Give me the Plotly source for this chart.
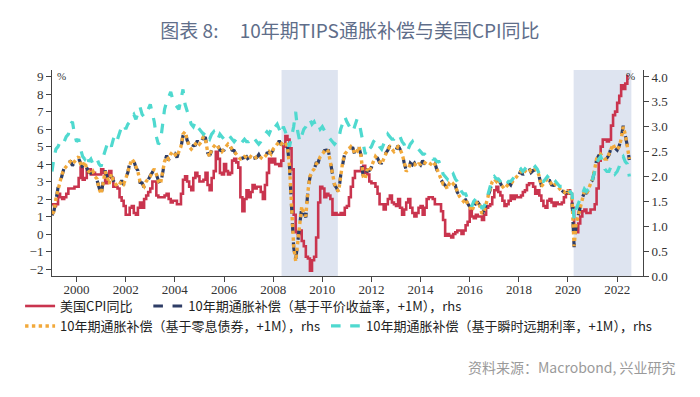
import pandas as pd
import plotly.graph_objects as go

# US CPI YoY (%), monthly from 1999-01 to 2022-06
cpi_yoy = [
    1.7, 1.6, 1.7, 2.3, 2.1, 2.0, 2.1, 2.3, 2.6, 2.6, 2.6, 2.7,
    2.7, 3.2, 3.8, 3.1, 3.2, 3.7, 3.7, 3.4, 3.5, 3.4, 3.4, 3.4,
    3.7, 3.5, 2.9, 3.3, 3.6, 3.2, 2.7, 2.7, 2.6, 2.1, 1.9, 1.6,
    1.1, 1.1, 1.5, 1.6, 1.2, 1.1, 1.5, 1.8, 1.5, 2.0, 2.2, 2.4,
    2.6, 3.0, 3.0, 2.2, 2.1, 2.1, 2.1, 2.2, 2.3, 2.0, 1.8, 1.9,
    1.9, 1.7, 1.7, 2.3, 3.1, 3.3, 3.0, 2.7, 2.5, 3.2, 3.5, 3.3,
    3.0, 3.0, 3.1, 3.5, 2.8, 2.5, 3.2, 3.6, 4.7, 4.3, 3.5, 3.4,
    4.0, 3.6, 3.4, 3.5, 4.2, 4.3, 4.1, 3.8, 2.1, 1.3, 2.0, 2.5,
    2.1, 2.4, 2.8, 2.6, 2.7, 2.7, 2.4, 2.0, 2.8, 3.5, 4.3, 4.1,
    4.3, 4.0, 4.0, 3.9, 4.2, 5.0, 5.6, 5.4, 4.9, 3.7, 1.1, 0.1,
    0.0, 0.2, -0.4, -0.7, -1.3, -1.4, -2.1, -1.5, -1.3, -0.2, 1.8, 2.7,
    2.6, 2.1, 2.3, 2.2, 2.0, 1.1, 1.2, 1.1, 1.1, 1.2, 1.1, 1.5,
    1.6, 2.1, 2.7, 3.2, 3.6, 3.6, 3.6, 3.8, 3.9, 3.5, 3.4, 3.0,
    2.9, 2.9, 2.7, 2.3, 1.7, 1.7, 1.4, 1.7, 2.0, 2.2, 1.8, 1.7,
    1.6, 2.0, 1.5, 1.1, 1.4, 1.8, 2.0, 1.5, 1.2, 1.0, 1.2, 1.5,
    1.6, 1.1, 1.5, 2.0, 2.1, 2.1, 2.0, 1.7, 1.7, 1.7, 1.3, 0.8,
    -0.1, 0.0, -0.1, -0.2, 0.0, 0.1, 0.2, 0.2, 0.0, 0.2, 0.5, 0.7,
    1.4, 1.0, 0.9, 1.1, 1.0, 1.0, 0.8, 1.1, 1.5, 1.6, 1.7, 2.1,
    2.5, 2.7, 2.4, 2.2, 1.9, 1.6, 1.7, 1.9, 2.2, 2.0, 2.2, 2.1,
    2.1, 2.2, 2.4, 2.5, 2.8, 2.9, 2.9, 2.7, 2.3, 2.5, 2.2, 1.9,
    1.6, 1.5, 1.9, 2.0, 1.8, 1.6, 1.8, 1.7, 1.7, 1.8, 2.1, 2.3,
    2.5, 2.3, 1.5, 0.3, 0.1, 0.6, 1.0, 1.3, 1.4, 1.2, 1.2, 1.4,
    1.4, 1.7, 2.6, 4.2, 5.0, 5.4, 5.4, 5.3, 5.4, 6.2, 6.8, 7.0,
    7.5, 7.9, 8.5, 8.3, 8.6, 9.1,
]

# 10Y breakeven, par yield based, +1M (rhs, %), monthly from 1999-01 to 2022-07
be_par = [
    1.22, 1.32, 1.52, 1.78, 1.88, 2.02, 2.18, 2.18, 2.22, 2.32, 2.22, 2.28,
    2.38, 2.36, 2.28, 2.18, 2.27, 2.18, 2.08, 2.07, 2.08, 2.02, 1.92, 1.78,
    1.62, 1.92, 2.12, 1.98, 1.88, 2.02, 1.92, 1.82, 1.82, 1.82, 1.92, 1.83,
    1.97, 2.08, 2.27, 2.32, 2.32, 2.18, 2.12, 1.88, 1.87, 1.78, 1.92, 1.93,
    2.02, 2.08, 2.17, 2.03, 1.92, 1.83, 2.07, 2.28, 2.42, 2.33, 2.47, 2.48,
    2.47, 2.38, 2.52, 2.58, 2.82, 2.92, 2.73, 2.62, 2.53, 2.62, 2.63, 2.72,
    2.63, 2.72, 2.78, 2.77, 2.48, 2.42, 2.53, 2.62, 2.63, 2.62, 2.53, 2.52,
    2.53, 2.62, 2.63, 2.62, 2.53, 2.52, 2.43, 2.42, 2.33, 2.37, 2.38, 2.40,
    2.33, 2.42, 2.36, 2.37, 2.38, 2.44, 2.36, 2.37, 2.38, 2.47, 2.48, 2.47,
    2.53, 2.62, 2.63, 2.72, 2.63, 2.72, 2.66, 2.62, 2.18, 1.52, 0.58, 0.32,
    0.68, 0.97, 1.38, 1.27, 1.18, 1.72, 1.98, 2.12, 2.13, 2.27, 2.28, 2.42,
    2.43, 2.52, 2.53, 2.52, 2.28, 2.12, 1.83, 1.77, 1.68, 2.02, 2.28, 2.47,
    2.48, 2.57, 2.58, 2.57, 2.43, 2.52, 2.58, 2.42, 1.98, 1.97, 2.13, 2.12,
    2.18, 2.32, 2.38, 2.37, 2.28, 2.27, 2.33, 2.47, 2.53, 2.62, 2.53, 2.52,
    2.53, 2.62, 2.53, 2.47, 2.28, 2.12, 2.13, 2.27, 2.23, 2.27, 2.18, 2.27,
    2.23, 2.32, 2.26, 2.27, 2.26, 2.27, 2.28, 2.27, 2.13, 2.07, 1.93, 1.87,
    1.83, 1.77, 1.83, 1.82, 1.83, 1.82, 1.68, 1.62, 1.53, 1.52, 1.53, 1.47,
    1.38, 1.32, 1.38, 1.47, 1.48, 1.42, 1.23, 1.32, 1.43, 1.62, 1.73, 1.92,
    1.93, 1.92, 1.93, 1.87, 1.78, 1.77, 1.78, 1.87, 1.83, 1.92, 1.93, 2.02,
    2.03, 2.12, 2.03, 2.12, 2.13, 2.17, 2.08, 2.12, 2.13, 2.14, 1.98, 1.82,
    1.83, 1.92, 1.93, 1.92, 1.83, 1.82, 1.83, 1.82, 1.73, 1.72, 1.68, 1.67,
    1.68, 1.67, 1.53, 0.58, 1.03, 1.22, 1.33, 1.57, 1.68, 1.67, 1.73, 1.87,
    1.93, 2.17, 2.33, 2.42, 2.43, 2.42, 2.33, 2.37, 2.43, 2.57, 2.63, 2.57,
    2.53, 2.62, 2.77, 3.02, 2.83, 2.62, 2.33,
]

# 10Y breakeven, zero-coupon based, +1M (rhs, %)
be_zero = [
    1.25, 1.30, 1.55, 1.75, 1.90, 2.05, 2.15, 2.20, 2.25, 2.30, 2.25, 2.30,
    2.35, 2.40, 2.25, 2.20, 2.30, 2.15, 2.10, 2.05, 2.10, 2.00, 1.95, 1.75,
    1.65, 1.95, 2.10, 2.00, 1.85, 2.05, 1.90, 1.85, 1.80, 1.85, 1.90, 1.85,
    1.95, 2.10, 2.25, 2.35, 2.30, 2.20, 2.10, 1.90, 1.85, 1.80, 1.90, 1.95,
    2.00, 2.10, 2.15, 2.05, 1.90, 1.85, 2.05, 2.30, 2.40, 2.35, 2.45, 2.50,
    2.45, 2.40, 2.50, 2.60, 2.85, 2.90, 2.75, 2.60, 2.55, 2.60, 2.65, 2.70,
    2.65, 2.70, 2.80, 2.75, 2.50, 2.40, 2.55, 2.60, 2.65, 2.60, 2.55, 2.50,
    2.55, 2.60, 2.65, 2.60, 2.55, 2.50, 2.45, 2.40, 2.35, 2.35, 2.40, 2.38,
    2.35, 2.40, 2.38, 2.35, 2.40, 2.42, 2.38, 2.35, 2.40, 2.45, 2.50, 2.45,
    2.55, 2.60, 2.65, 2.70, 2.65, 2.70, 2.68, 2.60, 2.20, 1.50, 0.60, 0.30,
    0.70, 0.95, 1.40, 1.25, 1.20, 1.70, 2.00, 2.10, 2.15, 2.25, 2.30, 2.40,
    2.45, 2.50, 2.55, 2.50, 2.30, 2.10, 1.85, 1.75, 1.70, 2.00, 2.30, 2.45,
    2.50, 2.55, 2.60, 2.55, 2.45, 2.50, 2.60, 2.40, 2.00, 1.95, 2.15, 2.10,
    2.20, 2.30, 2.40, 2.35, 2.30, 2.25, 2.35, 2.45, 2.55, 2.60, 2.55, 2.50,
    2.55, 2.60, 2.55, 2.45, 2.30, 2.10, 2.15, 2.25, 2.25, 2.25, 2.20, 2.25,
    2.25, 2.30, 2.28, 2.25, 2.28, 2.25, 2.30, 2.25, 2.15, 2.05, 1.95, 1.85,
    1.85, 1.75, 1.85, 1.80, 1.85, 1.80, 1.70, 1.60, 1.55, 1.50, 1.55, 1.45,
    1.40, 1.30, 1.40, 1.45, 1.50, 1.40, 1.25, 1.30, 1.45, 1.60, 1.75, 1.90,
    1.95, 1.90, 1.95, 1.85, 1.80, 1.75, 1.80, 1.85, 1.85, 1.90, 1.95, 2.00,
    2.05, 2.10, 2.05, 2.10, 2.15, 2.15, 2.10, 2.10, 2.15, 2.12, 2.00, 1.80,
    1.85, 1.90, 1.95, 1.90, 1.85, 1.80, 1.85, 1.80, 1.75, 1.70, 1.70, 1.65,
    1.70, 1.65, 1.55, 0.60, 1.05, 1.20, 1.35, 1.55, 1.70, 1.65, 1.75, 1.85,
    1.95, 2.15, 2.35, 2.40, 2.45, 2.40, 2.35, 2.35, 2.45, 2.55, 2.65, 2.55,
    2.55, 2.60, 2.75, 3.00, 2.85, 2.60, 2.35,
]

# 10Y breakeven, instantaneous forward based, +1M (rhs, %)
be_fwd = [
    2.10, 2.40, 2.55, 2.60, 2.70, 2.75, 2.70, 2.80, 2.85, 3.05, 3.10, 2.85,
    2.70, 2.75, 2.55, 2.40, 2.35, 2.45, 2.30, 2.35, 2.25, 2.30, 2.35, 2.25,
    2.20, 2.40, 2.55, 2.65, 2.70, 2.60, 2.75, 2.85, 2.75, 2.90, 3.00, 3.05,
    2.95, 3.05, 3.10, 3.20, 3.25, 3.15, 3.30, 3.40, 3.25, 3.20, 3.30, 3.35,
    3.45, 3.25, 3.10, 2.80, 2.65, 2.70, 3.00, 3.35, 3.50, 3.60, 3.70, 3.55,
    3.45, 3.40, 3.35, 3.55, 3.75, 3.45, 3.30, 3.20, 3.05, 3.00, 3.10, 3.00,
    2.95, 2.90, 2.85, 2.90, 2.80, 2.75, 2.85, 2.90, 2.80, 2.75, 2.85, 2.80,
    2.75, 2.80, 2.85, 2.80, 2.75, 2.70, 2.75, 2.70, 2.65, 2.70, 2.75, 2.70,
    2.70, 2.75, 2.70, 2.75, 2.70, 2.65, 2.70, 2.80, 2.85, 2.90, 2.85, 2.95,
    2.90, 3.00, 3.05, 2.95, 2.85, 3.00, 2.90, 2.75, 2.60, 2.80, 3.00, 3.30,
    2.90, 2.70, 2.80, 2.95, 3.00, 3.10, 3.15, 3.05, 3.10, 3.00, 3.05, 2.95,
    3.00, 2.90, 2.85, 2.80, 2.75, 2.70, 2.65, 2.70, 2.75, 2.95, 3.10, 3.20,
    3.10, 3.00, 2.95, 2.90, 3.05, 3.15, 3.10, 2.85, 2.60, 2.45, 2.60, 2.55,
    2.60, 2.70, 2.75, 2.70, 2.60, 2.55, 2.65, 2.75, 2.85, 2.80, 2.75, 2.75,
    2.80, 2.85, 2.80, 2.70, 2.65, 2.50, 2.55, 2.65, 2.70, 2.60, 2.55, 2.55,
    2.50, 2.45, 2.45, 2.40, 2.35, 2.38, 2.35, 2.35, 2.30, 2.30, 2.20, 2.05,
    2.00, 1.95, 2.05, 2.00, 2.05, 1.95, 1.90, 1.80, 1.70, 1.65, 1.65, 1.55,
    1.50, 1.40, 1.50, 1.55, 1.55, 1.50, 1.35, 1.40, 1.50, 1.65, 1.80, 1.95,
    2.00, 1.95, 1.95, 1.90, 1.85, 1.80, 1.85, 1.90, 1.90, 1.95, 2.00, 2.05,
    2.10, 2.15, 2.10, 2.15, 2.20, 2.18, 2.15, 2.15, 2.20, 2.15, 2.05, 1.90,
    1.90, 1.95, 2.00, 1.95, 1.90, 1.85, 1.90, 1.85, 1.80, 1.80, 1.75, 1.75,
    1.75, 1.70, 1.65, 1.15, 1.35, 1.45, 1.55, 1.65, 1.75, 1.70, 1.75, 1.85,
    1.95, 2.10, 2.25, 2.35, 2.40, 2.30, 2.15, 2.10, 2.10, 2.20, 2.15, 2.05,
    2.10, 2.20, 2.35, 2.40, 2.30, 2.25, 2.00,
]

start_month = "1999-01-01"
x_tick_years = ["2000", "2002", "2004", "2006", "2008", "2010", "2012",
                "2014", "2016", "2018", "2020", "2022"]
left_ticks = [-2, -1, 0, 1, 2, 3, 4, 5, 6, 7, 8, 9]
right_ticks = [0.0, 0.5, 1.0, 1.5, 2.0, 2.5, 3.0, 3.5, 4.0]
shade_start = ["2008-05-05", "2020-03-25"]
shade_end = ["2010-08-20", "2022-07-31"]

names = ["美国CPI同比",
         "10年期通胀补偿（基于平价收益率，+1M），rhs",
         "10年期通胀补偿（基于零息债券，+1M），rhs",
         "10年期通胀补偿（基于瞬时远期利率，+1M），rhs"]

dates_cpi = pd.date_range(start_month, periods=len(cpi_yoy), freq="MS")
dates_be = pd.date_range(start_month, periods=len(be_zero), freq="MS")

fig = go.Figure()
fig.add_trace(go.Scatter(x=dates_cpi, y=cpi_yoy, name=names[0], mode="lines",
                         line=dict(color="#C9344E", width=2.6, shape="hv"),
                         legend="legend", showlegend=True))
fig.add_trace(go.Scatter(x=dates_be, y=be_par, name=names[1], mode="lines",
                         line=dict(color="#2E3D66", width=3.2, dash="dash"),
                         yaxis="y2", legend="legend2", showlegend=True))
fig.add_trace(go.Scatter(x=dates_be, y=be_zero, name=names[2], mode="lines",
                         line=dict(color="#F2A93B", width=3.4, dash="dot"),
                         yaxis="y2", legend="legend3", showlegend=True))
fig.add_trace(go.Scatter(x=dates_be, y=be_fwd, name=names[3], mode="lines",
                         line=dict(color="#4FD9CF", width=3.2, dash="dash"),
                         yaxis="y2", legend="legend4", showlegend=True))

for s0, s1 in zip(shade_start, shade_end):
    fig.add_shape(type="rect", xref="x", yref="paper", x0=s0, x1=s1, y0=0, y1=1,
                  fillcolor="#DEE4F0", line=dict(width=0), layer="below")

tick_font = dict(family="Liberation Serif", size=13, color="#333333")
leg_font = dict(family="Noto Sans CJK SC", size=13, color="#222222")


def leg(x, y):
    return dict(orientation="h", x=x, xanchor="left", y=y, yanchor="top",
                font=leg_font, itemwidth=30, bgcolor="rgba(0,0,0,0)")


fig.update_layout(
    width=700, height=397,
    showlegend=True,
    paper_bgcolor="white", plot_bgcolor="white",
    margin=dict(l=52, r=57, t=70, b=121),
    title=dict(text="图表 8:     10年期TIPS通胀补偿与美国CPI同比",
               x=0.5, xanchor="center", y=0.922, yanchor="middle",
               font=dict(family="Noto Sans CJK SC", size=19, color="#5F6E8A")),
    xaxis=dict(range=["1999-01-01", "2023-01-20"],
               tickvals=[f"{y}-01-01" for y in x_tick_years], ticktext=x_tick_years,
               ticks="outside", ticklen=5, tickcolor="#444", showgrid=False,
               showline=True, linecolor="#444", linewidth=1, tickfont=tick_font,
               ticklabelstandoff=-4, zeroline=False),
    yaxis=dict(range=[-2.4, 9.38], tickvals=left_ticks, ticks="outside", ticklen=5,
               tickcolor="#444", showgrid=False, showline=True, linecolor="#444",
               linewidth=1, tickfont=tick_font, zeroline=False),
    yaxis2=dict(range=[0, 4.14], tickvals=right_ticks, tickformat=".1f",
                overlaying="y", side="right", ticks="outside", ticklen=5,
                tickcolor="#444", showgrid=False, showline=True, linecolor="#444",
                linewidth=1, tickfont=tick_font, zeroline=False),
    legend=leg(-0.054, -0.073),
    legend2=leg(0.163, -0.073),
    legend3=leg(-0.054, -0.17),
    legend4=leg(0.4636, -0.17),
    annotations=[
        dict(text="%", xref="paper", yref="paper", x=0.005, y=0.97, showarrow=False,
             xanchor="left", yanchor="middle",
             font=dict(family="Liberation Serif", size=11, color="#333")),
        dict(text="%", xref="paper", yref="paper", x=0.99, y=0.97, showarrow=False,
             xanchor="right", yanchor="middle",
             font=dict(family="Liberation Serif", size=11, color="#333")),
        dict(text="资料来源：Macrobond, 兴业研究", xref="paper", yref="paper",
             x=1.06, y=-0.44, xanchor="right", yanchor="middle", showarrow=False,
             font=dict(family="Noto Sans CJK SC", size=14, color="#9A9A9A")),
    ],
)

fig.write_html("out.html", config={"displayModeBar": False},
               post_script="document.body.style.margin='0px';")
